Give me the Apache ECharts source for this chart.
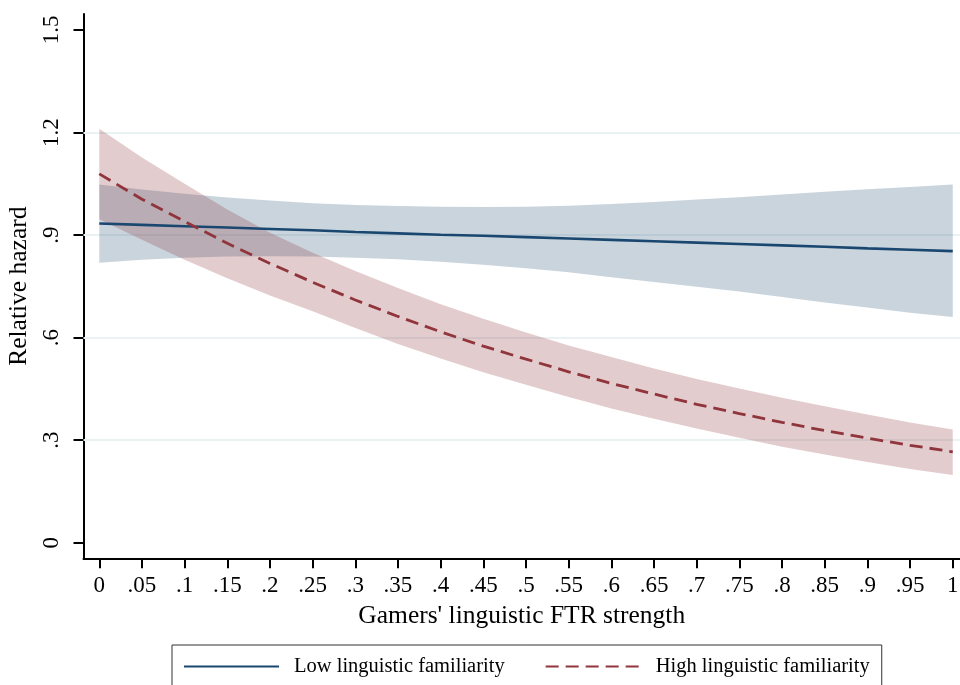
<!DOCTYPE html>
<html>
<head>
<meta charset="utf-8">
<script src="https://cdn.jsdelivr.net/npm/echarts@6/dist/echarts.min.js"></script>
<style>
html,body{margin:0;padding:0;background:#fff;}
#chart{width:960px;height:685px;}
</style>
</head>
<body>
<div id="chart"></div>
<script>
// ---- data ----
const xValues = [0, .05, .1, .15, .2, .25, .3, .35, .4, .45, .5, .55, .6, .65, .7, .75, .8, .85, .9, .95, 1];
const lowFamEst = [.934, .930, .926, .922, .918, .914, .909, .905, .901, .898, .894, .890, .886, .882, .878, .874, .870, .866, .861, .857, .853];
const lowFamHi  = [1.048, 1.033, 1.021, 1.010, 1.001, .993, .988, .985, .983, .982, .983, .986, .991, .997, 1.004, 1.011, 1.019, 1.027, 1.034, 1.041, 1.048];
const lowFamLo  = [.819, .828, .834, .837, .838, .837, .834, .829, .822, .813, .803, .791, .777, .763, .749, .735, .719, .703, .688, .673, .660];
const highFamEst = [1.079, 1.005, .940, .876, .817, .762, .710, .662, .617, .575, .537, .500, .466, .435, .405, .378, .352, .328, .306, .285, .266];
const highFamHi  = [1.211, 1.127, 1.050, .975, .907, .848, .795, .745, .698, .655, .615, .577, .543, .510, .479, .451, .424, .399, .375, .352, .331];
const highFamLo  = [.946, .886, .828, .774, .723, .677, .628, .581, .539, .499, .462, .426, .393, .363, .334, .307, .281, .258, .236, .216, .198];

const xTickValues = [0, .05, .1, .15, .2, .25, .3, .35, .4, .45, .5, .55, .6, .65, .7, .75, .8, .85, .9, .95, 1];
const xTickLabels = ['0', '.05', '.1', '.15', '.2', '.25', '.3', '.35', '.4', '.45', '.5', '.55', '.6', '.65', '.7', '.75', '.8', '.85', '.9', '.95', '1'];
const yTickValues = [0, .3, .6, .9, 1.2, 1.5];
const yTickLabels = ['0', '.3', '.6', '.9', '1.2', '1.5'];
const yGridValues = [.3, .6, .9, 1.2];

const seriesNames = ['Low linguistic familiarity', 'High linguistic familiarity'];
const xTitle = "Gamers' linguistic FTR strength";
const yTitle = 'Relative hazard';

// ---- build ----
const FONT = '"Liberation Serif", "Times New Roman", serif';
const BLUE = '#1a476f';
const RED = '#90353b';

function pairs(ys) { return xValues.map((x, i) => [x, ys[i]]); }
function bandRows(lo, hi) { return xValues.map((x, i) => [x, lo[i], hi[i]]); }
function lookup(vals, labels, v) {
  for (let i = 0; i < vals.length; i++) if (Math.abs(vals[i] - v) < 1e-9) return labels[i];
  return '';
}
function bandSeries(name, lo, hi, color, opacity) {
  const rows = bandRows(lo, hi);
  return {
    name: name, type: 'custom', silent: true, z: 2, clip: true,
    data: rows,
    encode: {x: 0, y: [1, 2]},
    renderItem: function (params, api) {
      if (params.dataIndex !== 0) return null;
      const upper = rows.map(r => api.coord([r[0], r[2]]));
      const lower = rows.slice().reverse().map(r => api.coord([r[0], r[1]]));
      return {
        type: 'polygon',
        shape: {points: upper.concat(lower), smooth: 0},
        style: {fill: color, opacity: opacity, stroke: null}
      };
    }
  };
}

const chart = echarts.init(document.getElementById('chart'), null, {renderer: 'canvas'});

const option = {
  backgroundColor: '#ffffff',
  animation: false,
  textStyle: {fontFamily: FONT},
  grid: {left: 83.5, right: 0, top: 14, bottom: 126.7, containLabel: false, outerBoundsMode: 'none'},
  xAxis: {
    type: 'value',
    min: -0.0185, max: 1.0085,
    name: xTitle, nameLocation: 'middle', nameGap: 45,
    nameTextStyle: {fontFamily: FONT, fontSize: 25.5, color: '#000'},
    axisLine: {show: true, onZero: false, lineStyle: {color: '#000', width: 2}},
    axisTick: {show: true, length: 10, lineStyle: {color: '#000', width: 2}, customValues: xTickValues},
    axisLabel: {
      customValues: xTickValues, margin: 16, hideOverlap: false,
      fontFamily: FONT, fontSize: 23, color: '#000',
      formatter: v => lookup(xTickValues, xTickLabels, v)
    },
    splitLine: {show: false}
  },
  yAxis: {
    type: 'value',
    min: -0.0456, max: 1.5468,
    name: yTitle, nameLocation: 'middle', nameGap: 44, nameRotate: 90,
    nameTextStyle: {fontFamily: FONT, fontSize: 25.5, color: '#000'},
    axisLine: {show: true, onZero: false, lineStyle: {color: '#000', width: 2}},
    axisTick: {show: true, length: 10, lineStyle: {color: '#000', width: 2}, customValues: yTickValues},
    axisLabel: {
      customValues: yTickValues, margin: 20, rotate: 90,
      fontFamily: FONT, fontSize: 23, color: '#000',
      formatter: v => lookup(yTickValues, yTickLabels, v)
    },
    splitLine: {show: false}
  },
  legend: {
    data: seriesNames,
    left: 172, top: 645,
    orient: 'horizontal',
    itemWidth: 95, itemHeight: 20, itemGap: 40,
    padding: [11, 12, 40, 11],
    borderColor: '#333', borderWidth: 1,
    backgroundColor: '#fff',
    itemStyle: {opacity: 0, borderWidth: 0},
    textStyle: {fontFamily: FONT, fontSize: 20.5, color: '#000', padding: [0, 0, 0, 10]},
    selectedMode: false
  },
  series: [
    {
      name: 'gridlines', type: 'line', data: [], silent: true, z: 1,
      markLine: {
        silent: true, symbol: 'none', animation: false, z: 1,
        label: {show: false},
        lineStyle: {color: '#eaf2f3', width: 2, type: 'solid'},
        data: yGridValues.map(v => ({yAxis: v}))
      }
    },
    bandSeries('lowBand', lowFamLo, lowFamHi, BLUE, 0.235),
    bandSeries('highBand', highFamLo, highFamHi, RED, 0.25),
    {
      name: seriesNames[0], type: 'line', data: pairs(lowFamEst),
      symbol: 'none', smooth: false, z: 3,
      itemStyle: {color: BLUE},
      lineStyle: {color: BLUE, width: 2.6, type: 'solid'}
    },
    {
      name: seriesNames[1], type: 'line', data: pairs(highFamEst),
      symbol: 'none', smooth: false, z: 3,
      itemStyle: {color: RED},
      lineStyle: {color: RED, width: 2.8, type: [13, 7]}
    }
  ]
};
chart.setOption(option);
</script>
</body>
</html>
